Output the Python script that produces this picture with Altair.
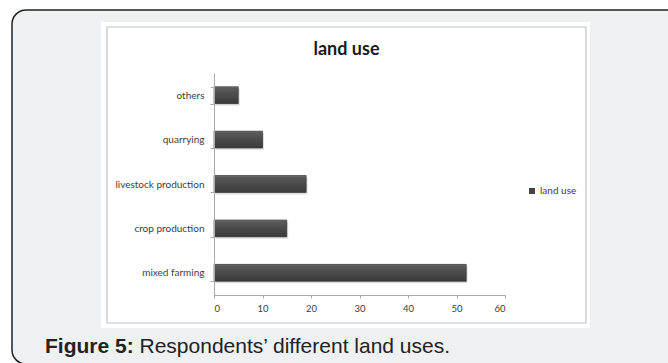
import altair as alt
import pandas as pd

# Survey results: respondents per land use
categories = ["mixed farming", "crop production", "livestock production", "quarrying", "others"]
values = [52, 15, 19, 10, 5]
series_name = "land use"
x_ticks = [0, 10, 20, 30, 40, 50, 60]
top_to_bottom = ["others", "quarrying", "livestock production", "crop production", "mixed farming"]

chart_title = "land use"
caption_bold = "Figure 5:"
caption_text = "Respondents\u2019 different land uses."

df = pd.DataFrame({"category": categories, "value": values, "series": series_name})
one = pd.DataFrame({"k": [0]})

# plot area sits at (214, 73) inside a 668x363 canvas
PAD = {"left": 214, "top": 73, "right": 163, "bottom": 68}

x_enc = alt.X(
    "value:Q",
    scale=alt.Scale(domain=[0, 60], nice=False),
    axis=alt.Axis(
        title=None, values=x_ticks, grid=False, zindex=1,
        domainColor="#a9a9a9", tickColor="#a9a9a9", tickSize=3,
        labelFont="Lato", labelFontSize=9.5, labelColor="#404040", labelPadding=5,
    ),
)
y_enc = alt.Y(
    "category:N",
    sort=top_to_bottom,
    scale=alt.Scale(paddingInner=0.62, paddingOuter=0.31),
    axis=alt.Axis(
        title=None, grid=False, zindex=1, tickBand="extent",
        domainColor="#a9a9a9", tickColor="#a9a9a9", tickSize=4,
        labelFont="Lato", labelFontSize=10, labelColor="#404040", labelPadding=6,
    ),
)

# page frame, white figure panel and its thin border
frame = alt.Chart(one).mark_rect(
    fill="#eff0f2", stroke="#222222", strokeWidth=1.5, cornerRadius=14
).encode(x=alt.value(12 - 214), x2=alt.value(690 - 214),
         y=alt.value(10 - 73), y2=alt.value(364 - 73))
panel = alt.Chart(one).mark_rect(fill="white").encode(
    x=alt.value(101 - 214), x2=alt.value(590 - 214),
    y=alt.value(22 - 73), y2=alt.value(328 - 73))
panel_border = alt.Chart(one).mark_rect(fill=None, stroke="#c4c4c4", strokeWidth=1.2).encode(
    x=alt.value(107 - 214), x2=alt.value(586 - 214),
    y=alt.value(27 - 73), y2=alt.value(323 - 73))

shadow = alt.Chart(df).mark_bar(color="#a0a0a0", opacity=0.35, xOffset=1.5, yOffset=2).encode(
    x=x_enc, y=y_enc)

base_bars = alt.Chart(df).mark_bar().encode(
    x=x_enc, y=y_enc,
    color=alt.Color(
        "series:N",
        scale=alt.Scale(range=["#444444"]),
        legend=alt.Legend(
            title=None, orient="none", legendX=313, legendY=113, padding=0,
            symbolType="square", symbolSize=36, symbolStrokeWidth=0,
            labelFont="Lato", labelFontSize=10, labelColor="#404040", labelOffset=3,
        ),
    ),
)

shade = alt.Gradient(
    gradient="linear",
    stops=[
        alt.GradientStop(color="#727272", offset=0),
        alt.GradientStop(color="#5a5a5a", offset=0.1),
        alt.GradientStop(color="#4a4a4a", offset=0.5),
        alt.GradientStop(color="#3a3a3a", offset=1),
    ],
    x1=0, x2=0, y1=0, y2=1,
)
bars = alt.Chart(df).mark_bar(color=shade, stroke="#3c3c3c", strokeWidth=0.6).encode(
    x=x_enc, y=y_enc)

title = alt.Chart(one).mark_text(
    text=chart_title, font="Lato", fontSize=18, fontWeight="bold", color="#1a1a1a",
    align="center", baseline="alphabetic",
).encode(x=alt.value(346.5 - 214), y=alt.value(55 - 73))

cap1 = alt.Chart(one).mark_text(
    text=caption_bold, font="Liberation Sans", fontSize=21, fontWeight="bold", color="#222222",
    align="left", baseline="alphabetic",
).encode(x=alt.value(45 - 214), y=alt.value(353 - 73))
cap2 = alt.Chart(one).mark_text(
    text=caption_text, font="Liberation Sans", fontSize=21, color="#222222",
    align="left", baseline="alphabetic",
).encode(x=alt.value(139.5 - 214), y=alt.value(353 - 73))

chart = alt.layer(
    frame, panel, panel_border, shadow, base_bars, bars, title, cap1, cap2
).properties(
    width=291, height=222, padding=PAD, autosize="none", background="white"
).configure_view(stroke=None)

chart.save("out.html", embed_options={"renderer": "svg", "actions": False})
